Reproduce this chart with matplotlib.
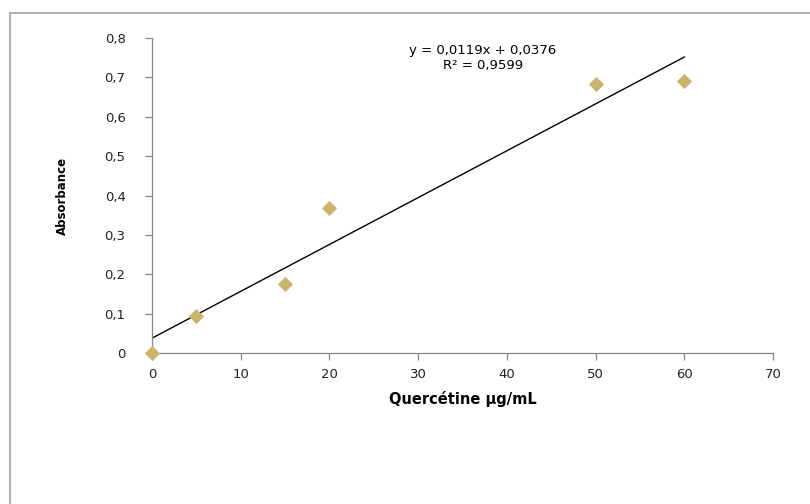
import matplotlib.pyplot as plt
import matplotlib.patches as mpatches
import numpy as np
from matplotlib.ticker import FuncFormatter

plt.rcParams['font.family'] = ['DejaVu Sans']

conc = [0, 5, 15, 20, 50, 60]
absorbance = [0.0, 0.095, 0.175, 0.367, 0.683, 0.690]
slope = 0.0119
intercept = 0.0376
eq_lines = ["y = 0,0119x + 0,0376", "R² = 0,9599"]
x_ticks = [0, 10, 20, 30, 40, 50, 60, 70]
y_ticks = [0, 0.1, 0.2, 0.3, 0.4, 0.5, 0.6, 0.7, 0.8]

fig = plt.figure(figsize=(8.1, 5.04), dpi=100)
fig.patch.set_facecolor('white')

# outer chart frame (runs off the right and bottom edges)
frame = mpatches.Rectangle((9.5 / 810, -0.05), 1.1, 1 - 12.5 / 504 + 0.05,
                           transform=fig.transFigure, fill=False,
                           edgecolor='#b0b0b0', linewidth=1.5)
fig.patches.append(frame)

ax = fig.add_axes([152 / 810, 1 - 353 / 504, (773 - 152) / 810, (353 - 38) / 504])

xfit = np.array([min(conc), max(conc)])
ax.plot(xfit, slope * xfit + intercept, color='black', linewidth=1.0, zorder=2)
ax.scatter(conc, absorbance, marker='D', s=60, color='#c9b46a', zorder=3,
           clip_on=False, linewidths=0)

ax.set_xlim(0, 70)
ax.set_ylim(0, 0.8)
ax.set_xticks(x_ticks)
ax.set_yticks(y_ticks)
comma = FuncFormatter(lambda v, p: ('%g' % round(v, 2)).replace('.', ','))
ax.xaxis.set_major_formatter(comma)
ax.yaxis.set_major_formatter(comma)

for side in ['top', 'right']:
    ax.spines[side].set_visible(False)
for side in ['left', 'bottom']:
    ax.spines[side].set_color('#868686')
    ax.spines[side].set_linewidth(0.9)
ax.tick_params(direction='out', length=5, width=0.9, color='#868686',
               labelsize=9.5, labelcolor='#222222')
ax.tick_params(axis='y', pad=14)
ax.tick_params(axis='x', pad=6)

ax.set_xlabel('Quercétine µg/mL', fontsize=10.5, fontweight='bold', labelpad=7)
ax.set_ylabel('Absorbance', fontsize=8.5, fontweight='bold', labelpad=26)

ax.text(37.3, 0.767, eq_lines[0], ha='center', va='center', fontsize=9.5)
ax.text(37.3, 0.731, eq_lines[1], ha='center', va='center', fontsize=9.5)

fig.savefig('out.png', dpi=100)
